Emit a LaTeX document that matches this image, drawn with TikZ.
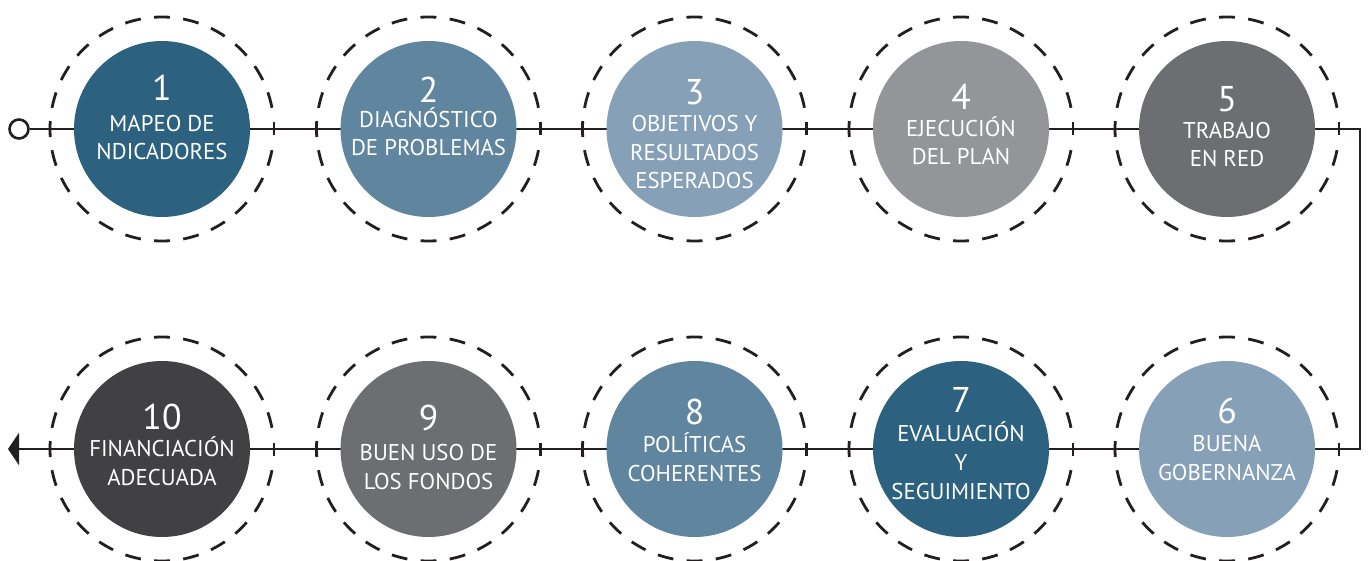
\documentclass[tikz,border=0pt]{standalone}
\usepackage{fontspec}
\setmainfont{PT Sans}
\definecolor{StepTeal}{RGB}{44, 98, 127}
\definecolor{StepSteel}{RGB}{95, 133, 159}
\definecolor{StepMist}{RGB}{134, 160, 183}
\definecolor{StepSilver}{RGB}{147, 149, 152}
\definecolor{StepSlate}{RGB}{109, 110, 113}
\definecolor{StepCoal}{RGB}{65, 64, 66}
\definecolor{LineInk}{RGB}{35, 31, 32}
\usetikzlibrary{arrows.meta, positioning, calc}

\begin{document}
\begin{tikzpicture}[x=0.5pt, y=-0.5pt,
        disc/.style={circle, minimum size=88pt, inner sep=0pt},
        ringline/.style={draw=LineInk, line width=1.4pt, dash pattern=on 8pt off 6.66pt},
        tickline/.style={draw=LineInk, line width=1.3pt},
        num/.style={font=\fontsize{17.9}{18}\selectfont, text=white, inner sep=0pt, anchor=center},
        lbl/.style={font=\fontsize{11.4}{14.35}\selectfont, text=white, align=center, inner sep=0pt, anchor=base}]
        \useasboundingbox (0,0) rectangle (1368,561);

        % recorrido
        \node[circle, draw=LineInk, line width=1.3pt, minimum size=9.5pt, inner sep=0pt] (start) at (19,129) {};
        \coordinate (turnA) at (1360,129);
        \coordinate (turnB) at (1360,449);
        \coordinate (finish) at (8,449);
        \draw[LineInk, line width=1.3pt, -{Triangle[length=5.5pt, width=16pt]}] (start) -- (turnA) -- (turnB) -- (finish);

        % pasos
        \node[disc, fill=StepTeal] (s1) at (162,129) {};
        \node[disc, fill=StepSteel] (s2) at (428.5,129) {};
        \node[disc, fill=StepMist] (s3) at (694.5,129) {};
        \node[disc, fill=StepSilver] (s4) at (961,129) {};
        \node[disc, fill=StepSlate] (s5) at (1227,129) {};
        \node[disc, fill=StepMist] (s6) at (1227,449) {};
        \node[disc, fill=StepTeal] (s7) at (961,449) {};
        \node[disc, fill=StepSteel] (s8) at (694.5,449) {};
        \node[disc, fill=StepSlate] (s9) at (428.5,449) {};
        \node[disc, fill=StepCoal] (s10) at (162,449) {};

        \foreach \s in {s1,s2,s3,s4,s5,s6,s7,s8,s9,s10} {
            \draw[ringline] (\s.center) ++(10.9:112) arc[start angle=10.9, end angle=349.1, radius=112];
            \draw[tickline] ($(\s.center)+(-112,-6.5)$) -- ++(0,13);
            \draw[tickline] ($(\s.center)+(112,-6.5)$) -- ++(0,13);
        }

        \node[num] (n1) at (162,88) {1};
        \node[lbl] (l1) at (162,160) {MAPEO DE\\NDICADORES};
        \node[num] (n2) at (428.5,90) {2};
        \node[lbl] (l2) at (428.5,156) {DIAGNÓSTICO\\DE PROBLEMAS};
        \node[num] (n3) at (694.5,92) {3};
        \node[lbl] (l3) at (694.5,189) {OBJETIVOS Y\\RESULTADOS\\ESPERADOS};
        \node[num] (n4) at (961,97) {4};
        \node[lbl] (l4) at (961,165) {EJECUCIÓN\\DEL PLAN};
        \node[num] (n5) at (1227,99) {5};
        \node[lbl] (l5) at (1227,167) {TRABAJO\\EN RED};
        \node[num] (n6) at (1227,411) {6};
        \node[lbl] (l6) at (1227,480) {BUENA\\GOBERNANZA};
        \node[num] (n7) at (961,400) {7};
        \node[lbl] (l7) at (961,499) {EVALUACIÓN\\Y\\SEGUIMIENTO};
        \node[num] (n8) at (694.5,412) {8};
        \node[lbl] (l8) at (694.5,481) {POLÍTICAS\\COHERENTES};
        \node[num] (n9) at (428.5,418) {9};
        \node[lbl] (l9) at (428.5,489) {BUEN USO DE\\LOS FONDOS};
        \node[num] (n10) at (162,417) {10};
        \node[lbl] (l10) at (162,485) {FINANCIACIÓN\\ADECUADA};
    \end{tikzpicture}
\end{document}
